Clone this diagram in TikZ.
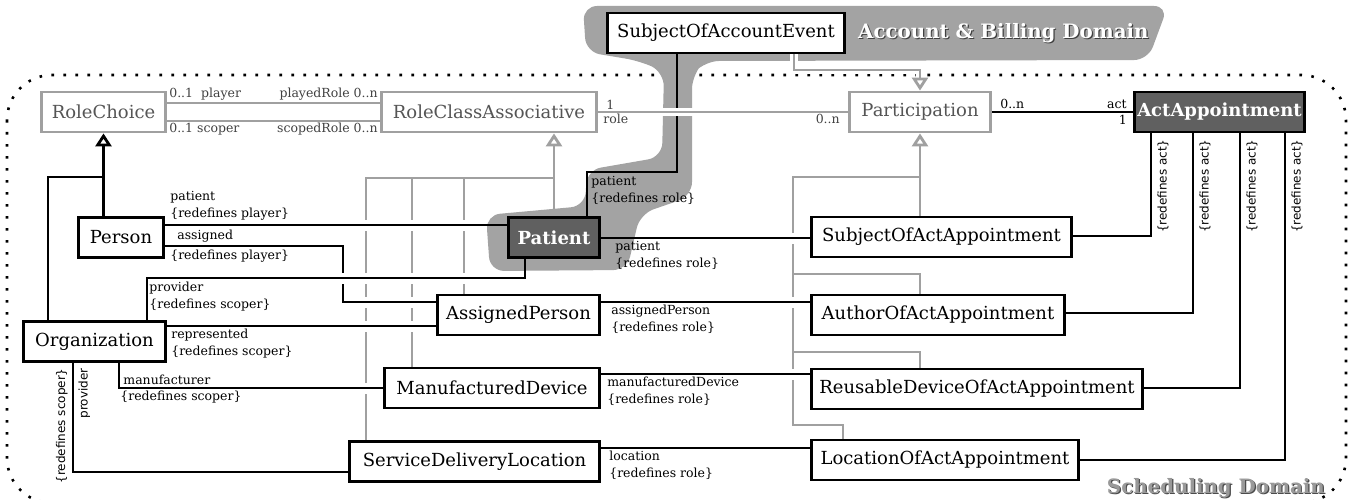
\documentclass[tikz,border=0pt]{standalone}
\usepackage{fontspec}
\setmainfont{DejaVu Serif}
\newfontfamily\rotsans{DejaVu Sans}
\definecolor{umlgray}{RGB}{160,160,160}
\definecolor{blobgray}{RGB}{163,163,163}
\definecolor{darkbox}{RGB}{96,96,96}
\definecolor{graytext}{RGB}{85,85,85}
\usetikzlibrary{arrows.meta, calc, backgrounds}
\pgfdeclarelayer{frame}
\pgfdeclarelayer{halo}
\pgfdeclarelayer{blob}
\pgfdeclarelayer{lines}
\pgfsetlayers{frame,halo,blob,lines,main}
\newcommand{\assoc}[2]
{
	\begin{pgfonlayer}{halo}\draw[line width=11pt, white] #1;\end{pgfonlayer}
	\begin{pgfonlayer}{lines}\draw[assoc] #1 #2;\end{pgfonlayer}
}

\begin{document}
\begin{tikzpicture}[x=1pt, y=-1pt,
	cls/.style={draw=black, line width=2.8pt, fill=white, minimum height=40pt,
		inner sep=2pt, font=\fontsize{18}{20}\selectfont},
	greycls/.style={cls, draw=umlgray, text=graytext},
	keycls/.style={cls, fill=darkbox, text=white, font=\fontsize{18}{20}\selectfont\bfseries},
	assoc/.style={draw=black, line width=2.8pt},
	grayline/.style={draw=umlgray, line width=2.8pt},
	grayassoc/.style={grayline, preaction={draw=white, line width=8pt, -}},
	gen/.style={grayline, -{Triangle[open, length=13pt, width=16pt, fill=white]}},
	genblack/.style={assoc, -{Triangle[open, length=13pt, width=16pt, fill=white]}},
	lbl/.style={font=\fontsize{12.5}{17}\selectfont, inner sep=1pt, align=left},
	glbl/.style={lbl, text=black!75},
	rlbl/.style={font=\rotsans\fontsize{12}{14}\selectfont, inner sep=1pt, rotate=90},
	title/.style={font=\fontsize{19.8}{22}\selectfont\bfseries, inner sep=0pt}]

	\useasboundingbox (0,0) rectangle (1351,500);

	% classes
	\node[greycls, minimum width=124pt] (RoleChoice) at (103.5,112) {RoleChoice};
	\node[greycls, minimum width=215pt] (RoleClass) at (489,112) {RoleClassAssociative};
	\node[cls, minimum width=237pt] (AcctSubject) at (726,33) {SubjectOfAccountEvent};
	\node[greycls, minimum width=141pt] (Participation) at (920,112) {Participation};
	\node[keycls, minimum width=170pt] (ActAppt) at (1219.5,112) {ActAppointment};
	\node[cls, minimum width=85pt] (Person) at (121,237.5) {Person};
	\node[cls, minimum width=142pt] (Organization) at (94.5,341.5) {Organization};
	\node[keycls, minimum width=91pt] (Patient) at (554,237.5) {Patient};
	\node[cls, minimum width=162pt] (AssignedPerson) at (518.5,315) {AssignedPerson};
	\node[cls, minimum width=215pt] (MfgDevice) at (492,388) {ManufacturedDevice};
	\node[cls, minimum width=250pt] (SDLocation) at (474.5,461.5) {ServiceDeliveryLocation};
	\node[cls, minimum width=260pt] (SubjectAppt) at (941.5,237) {SubjectOfActAppointment};
	\node[cls, minimum width=253pt] (AuthorAppt) at (938,315) {AuthorOfActAppointment};
	\node[cls, minimum width=331pt] (DeviceAppt) at (977,389) {ReusableDeviceOfActAppointment};
	\node[cls, minimum width=267pt] (LocationAppt) at (945,460) {LocationOfActAppointment};

	% domain titles
	\node[title, text=black!75, anchor=west] (BillingShadow) at (859.2,34.2) {Account \& Billing Domain};
	\node[title, text=white, anchor=west] (BillingTitle) at (858,33) {Account \& Billing Domain};
	\node[title, text=black!70, anchor=east] (SchedShadow) at (1326.2,489.2) {Scheduling Domain};
	\node[title, text=black!40, anchor=east] (SchedTitle) at (1325,488) {Scheduling Domain};

	% scheduling domain frame and generalizations
	\begin{pgfonlayer}{frame}
	\draw[line width=2.6pt, dash pattern=on 2.6pt off 9.4pt, rounded corners=45pt] (7,75) rectangle (1346,503);
	\draw[grayline] (SDLocation.north -| 366,0) |- (Patient.north |- 0,178);
	\draw[grayline] (MfgDevice.north -| 412,0) -- (412,178);
	\draw[grayline] (AssignedPerson.north -| 464,0) -- (464,178);
	\draw[gen] (Patient.north) -- (Patient.north |- RoleClass.south);
	\draw[grayline] (LocationAppt.north -| 843,0) |- (793,425) |- (Participation.south |- 0,177);
	\draw[grayline] (AuthorAppt.north -| Participation.south) |- (793,274);
	\draw[grayline] (DeviceAppt.north -| Participation.south) |- (793,352);
	\draw[gen] (SubjectAppt.north -| Participation.south) -- (Participation.south);
	\end{pgfonlayer}

	% billing domain
	\begin{pgfonlayer}{blob}
	\fill[blobgray, rounded corners=14pt] (800,6) -- (1168,6) -- (1148,60) -- (705,61) -- (692,75)
		-- (692,196) -- (640,214) -- (627,270) -- (490,271) -- (486,215) -- (585,206) -- (587,170)
		-- (662,157) -- (664,72) -- (640,61) -- (586,52) -- (583,6) -- cycle;
	\end{pgfonlayer}

	% associations
	\assoc{(Person.east |- 0,225) -- (Patient.west |- 0,225)}
		{node[lbl, anchor=south west] at ($(Person.east |- 0,225)+(3,-2)$) {patient\\\{redefines player\}}}
	\begin{pgfonlayer}{halo}
	\draw[line width=11pt, white] (Person.east |- 0,246) -| (343,302) -- (AssignedPerson.west |- 0,302);
	\draw[assoc] (Person.east |- 0,246) -| (343,302) -- (AssignedPerson.west |- 0,302)
		node[lbl, anchor=south west] at ($(Person.east |- 0,246)+(10,-1)$) {assigned}
		node[lbl, anchor=north west] at ($(Person.east |- 0,246)+(3,2)$) {\{redefines player\}};
	\end{pgfonlayer}
	\assoc{(Organization.north -| 147,0) -- (147,278) -| (Patient.south -| 525,0)}
		{node[lbl, anchor=north west] at (147,280) {provider\\\{redefines scoper\}}}
	\assoc{(Organization.east |- 0,326) -- (AssignedPerson.west |- 0,326)}
		{node[lbl, anchor=north west] at ($(Organization.east |- 0,326)+(2,1)$) {represented\\\{redefines scoper\}}}
	\assoc{(Organization.south -| 119,0) |- (MfgDevice.west |- 0,388)}
		{node[lbl, anchor=south west] at (121,387) {manufacturer}
		node[lbl, anchor=north west] at (118,389) {\{redefines scoper\}}}
	\assoc{(Organization.south -| 73,0) |- (SDLocation.west |- 0,472)}
		{node[rlbl, anchor=south east] at (70,366) {\{redefines scoper\}}
		node[rlbl, anchor=north east] at (76,366) {provider}}
	\assoc{(AcctSubject.south -| 677,0) -- (677,172) -| (Patient.north -| 587,0)}
		{node[lbl, anchor=north west] at (589,174) {patient\\\{redefines role\}}}
	\assoc{(Patient.east |- 0,238) -- (SubjectAppt.west |- 0,238)}
		{node[lbl, anchor=north west] at ($(Patient.east |- 0,238)+(12,1)$) {patient\\\{redefines role\}}}
	\assoc{(AssignedPerson.east |- 0,302) -- (AuthorAppt.west |- 0,302)}
		{node[lbl, anchor=north west] at ($(AssignedPerson.east |- 0,302)+(8,1)$) {assignedPerson\\\{redefines role\}}}
	\assoc{(MfgDevice.east |- 0,374) -- (DeviceAppt.west |- 0,374)}
		{node[lbl, anchor=north west] at ($(MfgDevice.east |- 0,374)+(4,1)$) {manufacturedDevice\\\{redefines role\}}}
	\assoc{(SDLocation.east |- 0,448) -- (LocationAppt.west |- 0,448)}
		{node[lbl, anchor=north west] at ($(SDLocation.east |- 0,448)+(6,1)$) {location\\\{redefines role\}}}
	\assoc{(Participation.east) -- (ActAppt.west)}
		{node[lbl, anchor=south west] at ($(Participation.east)+(6,-1)$) {0..n}
		node[lbl, anchor=south east] at ($(ActAppt.west)+(-4,-1)$) {act}
		node[lbl, anchor=north east] at ($(ActAppt.west)+(-4,1)$) {1}}
	\assoc{(SubjectAppt.east |- 0,236) -| (ActAppt.south -| 1151,0)}
		{node[rlbl, anchor=north east] at (1155,137) {\{redefines act\}}}
	\assoc{(AuthorAppt.east |- 0,313) -| (ActAppt.south -| 1193,0)}
		{node[rlbl, anchor=north east] at (1197,137) {\{redefines act\}}}
	\assoc{(DeviceAppt.east |- 0,388) -| (ActAppt.south -| 1240,0)}
		{node[rlbl, anchor=north east] at (1244,137) {\{redefines act\}}}
	\assoc{(LocationAppt.east |- 0,460) -| (ActAppt.south -| 1285,0)}
		{node[rlbl, anchor=north east] at (1289,137) {\{redefines act\}}}

	% role classes
	\begin{pgfonlayer}{lines}
	\draw[assoc] (Organization.north -| 48,0) |- (RoleChoice.south |- 0,177);
	\draw[genblack] (RoleChoice.south |- Person.north) -- (RoleChoice.south);
	\draw[grayassoc] (RoleChoice.east |- 0,103) -- (RoleClass.west |- 0,103)
		node[glbl, pos=0, anchor=south west] {0..1\ \ player}
		node[glbl, pos=1, anchor=south east] {playedRole 0..n};
	\draw[grayassoc] (RoleChoice.east |- 0,121) -- (RoleClass.west |- 0,121)
		node[glbl, pos=0, anchor=north west] {0..1 scoper}
		node[glbl, pos=1, anchor=north east] {scopedRole\ 0..n};
	\draw[grayassoc] (RoleClass.east) -- (Participation.west)
		node[glbl, pos=0, anchor=south west, xshift=6pt] {1}
		node[glbl, pos=0, anchor=north west, xshift=3pt] {role}
		node[glbl, pos=1, anchor=north east, xshift=-6pt] {0..n};
	\draw[gen, preaction={draw=white, line width=8pt, -}] (AcctSubject.south -| 794,0) |- (Participation.north |- 0,70) -- (Participation.north);
	\end{pgfonlayer}
\end{tikzpicture}
\end{document}
